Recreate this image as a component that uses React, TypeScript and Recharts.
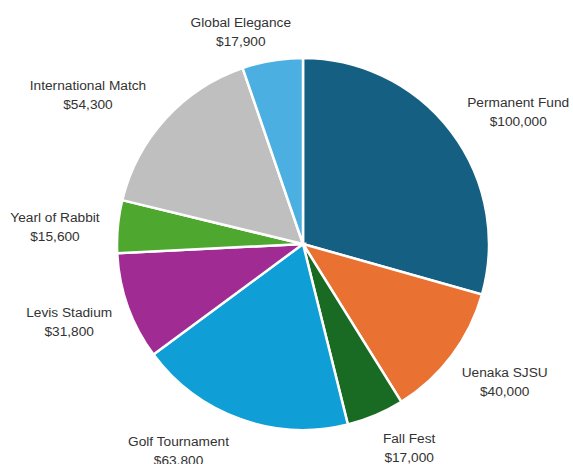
import { Cell, Pie, PieChart } from "recharts";

const names = [
  "Permanent Fund",
  "Uenaka SJSU",
  "Fall Fest",
  "Golf Tournament",
  "Levis Stadium",
  "Yearl of Rabbit",
  "International Match",
  "Global Elegance",
];
const amounts = [100000, 40000, 17000, 63800, 31800, 15600, 54300, 17900];
const colors = ["#156082", "#E97132", "#196B24", "#0F9ED5", "#A02B93", "#4EA72E", "#BFBFBF", "#4BAFE1"];

// label placement: nudge (px) from the polar point just outside each slice
const labelOffsets: [number, number][] = [
  [35, 4],
  [21, 2],
  [18, -5],
  [-48, -6],
  [-21, 1],
  [-23, 4],
  [-48, 3],
  [-25, 10],
];

const data = names.map((name, i) => ({ name, value: amounts[i] }));
const RAD = Math.PI / 180;

function renderLabel(props: any) {
  const { cx, cy, midAngle, outerRadius, index, name, value } = props;
  const r = outerRadius + 40;
  const [dx, dy] = labelOffsets[index];
  const x = cx + r * Math.cos(-midAngle * RAD) + dx;
  const y = cy + r * Math.sin(-midAngle * RAD) + dy;
  return (
    <text
      x={x}
      y={y - 4.5}
      textAnchor="middle"
      fill="#333333"
      fontSize={13.7}
      fontFamily="'Liberation Sans', Arial, sans-serif"
    >
      <tspan x={x} y={y - 4.5}>{name}</tspan>
      <tspan x={x} dy={19}>{"$" + value.toLocaleString("en-US")}</tspan>
    </text>
  );
}

export default function App() {
  return (
    <div style={{ position: "absolute", left: 0, top: 0, background: "#fff" }}>
      <PieChart width={573} height={464} margin={{ top: 0, right: 0, bottom: 0, left: 0 }}>
        <Pie
          data={data}
          dataKey="value"
          nameKey="name"
          cx={303}
          cy={244}
          outerRadius={186}
          startAngle={90}
          endAngle={-270}
          stroke="#ffffff"
          strokeWidth={2.5}
          label={renderLabel}
          labelLine={false}
          isAnimationActive={false}
        >
          {data.map((d, i) => (
            <Cell key={d.name} fill={colors[i]} />
          ))}
        </Pie>
      </PieChart>
    </div>
  );
}
